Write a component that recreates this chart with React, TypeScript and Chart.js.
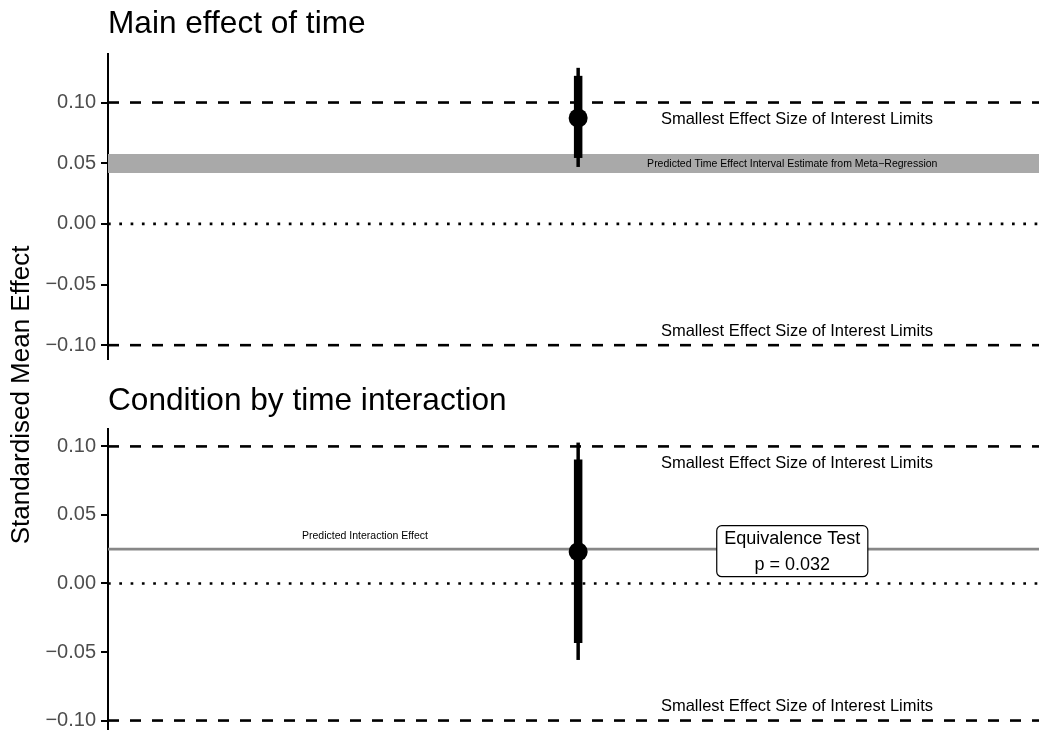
import React, { useEffect, useRef } from "react";
import { Chart, registerables } from "chart.js";

Chart.register(...registerables);

const W = 1039;
const H = 730;
const FONT = '"Liberation Sans", Arial, Helvetica, sans-serif';

// ---------- data ----------
const titles = ["Main effect of time", "Condition by time interaction"];
const yTitle = "Standardised Mean Effect";
const yTicks = [-0.1, -0.05, 0, 0.05, 0.1];
const sesoiLimits = [-0.1, 0.1];
const zeroLine = [0];
const sesoiLabel = "Smallest Effect Size of Interest Limits";

// panel 1: main effect of time
const timeEstimate = [0.0873];
const timeInner = [0.0543, 0.122];
const timeOuter = [0.0469, 0.1286];
const timeBand = [0.042, 0.0576];
const timeBandMid = [0.05];
const bandLabel = "Predicted Time Effect Interval Estimate from Meta\u2212Regression";
const timeRange = [-0.1114, 0.14];

// panel 2: condition by time interaction
const interEstimate = [0.0232];
const interInner = [-0.0434, 0.0905];
const interOuter = [-0.0558, 0.1028];
const predictedInteraction = [0.025];
const interLabel = "Predicted Interaction Effect";
const equivLines = ["Equivalence Test", "p = 0.032"];
const interRange = [-0.1069, 0.1127];

// x positions (continuous, 0..1)
const estimateX = [0.505];
const labelX = [0.735];
const sesoiLabelX = [0.74];
const interLabelX = [0.276];
const xRange = [0, 1];

type PanelCfg = {
  idx: number;
  range: number[];
  padTop: number;
  padBottom: number;
  titleBaseline: number;
  estimate: number[];
  inner: number[];
  outer: number[];
  band?: number[];
  refLine?: number[];
};

const panels: PanelCfg[] = [
  { idx: 0, range: timeRange, padTop: 54, padBottom: 371, titleBaseline: 33, estimate: timeEstimate, inner: timeInner, outer: timeOuter, band: timeBand },
  { idx: 1, range: interRange, padTop: 429, padBottom: 0, titleBaseline: 410, estimate: interEstimate, inner: interInner, outer: interOuter, refLine: predictedInteraction },
];

const fmt = (v: number) => {
  const s = (Math.abs(v) < 1e-9 ? 0 : v).toFixed(2);
  return s.replace("-", "\u2212");
};

function hline(v: number, color: string, width: number, dash: number[] = []) {
  return {
    type: "line" as const,
    data: [{ x: xRange[0], y: v }, { x: xRange[1], y: v }],
    borderColor: color,
    borderWidth: width,
    borderDash: dash,
    pointRadius: 0,
    fill: false,
    tension: 0,
  };
}

function vseg(x: number, lo: number, hi: number, width: number) {
  return {
    type: "line" as const,
    data: [{ x, y: lo }, { x, y: hi }],
    borderColor: "#000",
    borderWidth: width,
    pointRadius: 0,
    fill: false,
  };
}

function buildConfig(p: PanelCfg): any {
  const datasets: any[] = [];
  // first dataset is drawn on top
  datasets.push({
    type: "scatter",
    data: [{ x: estimateX[0], y: p.estimate[0] }],
    backgroundColor: "#000",
    borderWidth: 0,
    pointRadius: 9.5,
    pointHoverRadius: 9.5,
  });
  datasets.push(vseg(estimateX[0], p.inner[0], p.inner[1], 8.5));
  datasets.push(vseg(estimateX[0], p.outer[0], p.outer[1], 3.5));
  sesoiLimits.forEach((v) => datasets.push(hline(v, "#000", 2.6, [11, 11])));
  zeroLine.forEach((v) => datasets.push(hline(v, "#000", 2.7, [2.7, 8.6])));
  if (p.refLine) datasets.push(hline(p.refLine[0], "#878787", 2.7));
  if (p.band) {
    datasets.push({
      type: "line",
      data: [{ x: xRange[0], y: p.band[1] }, { x: xRange[1], y: p.band[1] }],
      borderWidth: 0,
      borderColor: "rgba(0,0,0,0)",
      pointRadius: 0,
      backgroundColor: "#a9a9a9",
      fill: { value: p.band[0] },
    });
  }

  const annot = {
    id: "annot" + p.idx,
    afterDatasetsDraw(chart: any) {
      const { ctx, scales } = chart;
      const xs = scales.x;
      const ys = scales.y;
      ctx.save();
      ctx.fillStyle = "#000";
      // panel title
      ctx.font = `31.6px ${FONT}`;
      ctx.textAlign = "left";
      ctx.textBaseline = "alphabetic";
      ctx.fillText(titles[p.idx], 108, p.titleBaseline);

      // shared y title
      if (p.idx === 0) {
        ctx.save();
        ctx.translate(22, 395);
        ctx.rotate(-Math.PI / 2);
        ctx.font = `26px ${FONT}`;
        ctx.textAlign = "center";
        ctx.textBaseline = "middle";
        ctx.fillText(yTitle, 0, 0);
        ctx.restore();
      }

      // SESOI labels
      ctx.font = `16.5px ${FONT}`;
      ctx.textAlign = "center";
      ctx.textBaseline = "middle";
      const sx = xs.getPixelForValue(sesoiLabelX[0]);
      sesoiLimits.forEach((v) => {
        const py = ys.getPixelForValue(v) + (v > 0 ? 17 : -14);
        ctx.fillText(sesoiLabel, sx, py);
      });

      const lx = xs.getPixelForValue(labelX[0]);
      if (p.band) {
        ctx.font = `10.5px ${FONT}`;
        ctx.fillText(bandLabel, lx, ys.getPixelForValue(timeBandMid[0]) + 1);
      }
      if (p.refLine) {
        ctx.font = `10.5px ${FONT}`;
        ctx.fillText(interLabel, xs.getPixelForValue(interLabelX[0]), ys.getPixelForValue(p.refLine[0]) - 13.5);

        // equivalence label box
        ctx.font = `18px ${FONT}`;
        const cy = ys.getPixelForValue(p.refLine[0]) + 2;
        const tw = Math.max(...equivLines.map((t) => ctx.measureText(t).width));
        const bw = tw + 15;
        const bh = 51;
        const bx = lx - bw / 2;
        const by = cy - bh / 2;
        ctx.beginPath();
        (ctx as any).roundRect(bx, by, bw, bh, 5);
        ctx.fillStyle = "#fff";
        ctx.fill();
        ctx.lineWidth = 1.2;
        ctx.strokeStyle = "#000";
        ctx.stroke();
        ctx.fillStyle = "#000";
        ctx.fillText(equivLines[0], lx, cy - 12);
        ctx.fillText(equivLines[1], lx, cy + 14);
      }
      ctx.restore();
    },
  };

  return {
    type: "line",
    data: { datasets },
    options: {
      responsive: false,
      maintainAspectRatio: false,
      devicePixelRatio: 1,
      animation: false,
      events: [],
      layout: { autoPadding: false, padding: { top: p.padTop, bottom: p.padBottom, left: 0, right: 0 } },
      plugins: {
        legend: { display: false },
        tooltip: { enabled: false },
        title: { display: false },
      },
      scales: {
        x: { type: "linear", min: xRange[0], max: xRange[1], display: false },
        y: {
          type: "linear",
          min: p.range[0],
          max: p.range[1],
          afterBuildTicks: (s: any) => {
            s.ticks = yTicks.map((v) => ({ value: v }));
          },
          afterFit: (s: any) => {
            s.width = 108;
            s.paddingTop = 0;
            s.paddingBottom = 0;
          },
          ticks: {
            callback: (v: any) => fmt(Number(v)),
            color: "#4d4d4d",
            font: { family: FONT, size: 20 },
            padding: 5,
          },
          grid: {
            display: true,
            drawOnChartArea: false,
            drawTicks: true,
            tickLength: 7,
            color: "#000",
            lineWidth: 2,
          },
          border: { display: true, color: "#000", width: 2 },
        },
      },
    },
    plugins: [annot],
  };
}

function Panel({ cfg }: { cfg: PanelCfg }) {
  const ref = useRef<HTMLCanvasElement>(null);
  useEffect(() => {
    if (!ref.current) return;
    const chart = new Chart(ref.current, buildConfig(cfg));
    return () => chart.destroy();
  }, [cfg]);
  return (
    <canvas
      ref={ref}
      width={W}
      height={H}
      style={{ position: "absolute", left: 0, top: 0, width: W, height: H }}
    />
  );
}

export default function App() {
  return (
    <div style={{ position: "fixed", left: 0, top: 0, width: W, height: H, background: "#fff", overflow: "hidden" }}>
      {panels.map((p) => (
        <Panel key={p.idx} cfg={p} />
      ))}
    </div>
  );
}
